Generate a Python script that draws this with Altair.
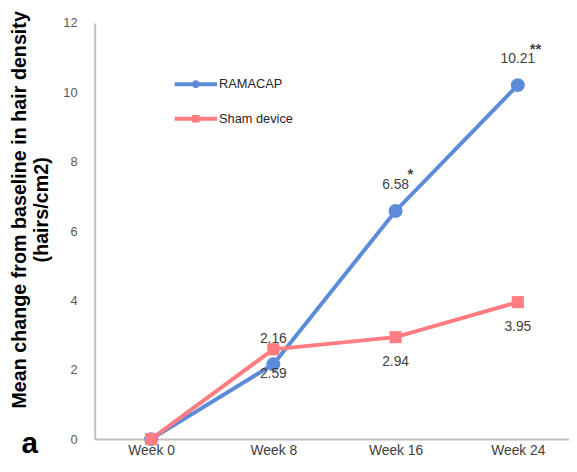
import altair as alt
import pandas as pd

weeks = ["Week 0", "Week 8", "Week 16", "Week 24"]
ramacap = [0, 2.16, 6.58, 10.21]
sham = [0, 2.59, 2.94, 3.95]
ramacap_labels = ["", "2.16", "6.58", "10.21"]
sham_labels = ["", "2.59", "2.94", "3.95"]
ramacap_sig = ["", "", "*", "**"]
series_names = ["RAMACAP", "Sham device"]
series_colors = ["#5B8BD9", "#FF7C80"]
y_ticks = [0, 2, 4, 6, 8, 10, 12]
y_title = ["Mean change from baseline in hair density", "(hairs/cm2)"]
panel_label = ["a"]

rows = []
for w, v, l, s in zip(weeks, ramacap, ramacap_labels, ramacap_sig):
    rows.append({"week": w, "series": series_names[0], "value": v, "label": l, "sig": s})
for w, v, l in zip(weeks, sham, sham_labels):
    rows.append({"week": w, "series": series_names[1], "value": v, "label": l, "sig": ""})
df = pd.DataFrame(rows)

FONT = "Liberation Sans"
AXIS_GRAY = "#BFBFBF"
BLUE, PINK = series_colors

# legend symbols: line segment with marker (unit coords, scaled by sqrt(size)/2)
legend_paths = [
    "M-2.15,-0.2H2.15V0.2H-2.15Z M0.4,0A0.4,0.4 0 1,1 -0.4,0A0.4,0.4 0 1,1 0.4,0Z",
    "M-2.15,-0.2H2.15V0.2H-2.15Z M-0.38,-0.38H0.38V0.38H-0.38Z",
]

x_enc = alt.X(
    "week:N",
    sort=weeks,
    scale=alt.Scale(type="point", padding=0.44, align=0.524),
    axis=alt.Axis(
        title=None, labelAngle=0, ticks=False, tickSize=0, grid=False,
        domainColor=AXIS_GRAY, domainWidth=2,
        labelFont=FONT, labelFontSize=14, labelColor="#404040", labelPadding=5,
    ),
)
y_enc = alt.Y(
    "value:Q",
    scale=alt.Scale(domain=[0, 12], nice=False),
    axis=alt.Axis(
        values=y_ticks, grid=False, ticks=False, tickSize=0,
        domainColor=AXIS_GRAY, domainWidth=2,
        labelFont=FONT, labelFontSize=13, labelColor="#595959", labelPadding=18,
        title=y_title, titleFont=FONT, titleFontSize=20, titleFontWeight="bold",
        titleColor="#000000", titleAngle=270, titleAlign="center",
        titleBaseline="middle", titleLineHeight=22, titleX=-76, titleY=189,
    ),
)

base = alt.Chart(df)
is_blue = alt.datum.series == series_names[0]
is_pink = alt.datum.series == series_names[1]

leg_props = dict(
    title=None, orient="none", legendX=92.5, legendY=52,
    symbolSize=400, symbolStrokeWidth=0, symbolOpacity=1,
    labelOffset=13.5, rowPadding=18, padding=0,
    labelFont=FONT, labelFontSize=13, labelColor="#262626",
)
legend_layer = base.transform_filter("false").mark_point(filled=True, opacity=1).encode(
    x=x_enc, y=y_enc,
    color=alt.Color("series:N", scale=alt.Scale(domain=series_names, range=series_colors),
                    legend=alt.Legend(**leg_props)),
    shape=alt.Shape("series:N", scale=alt.Scale(domain=series_names, range=legend_paths),
                    legend=alt.Legend(**leg_props)),
)

blue_line = base.transform_filter(is_blue).mark_line(strokeWidth=4, color=BLUE).encode(x=x_enc, y=y_enc)
pink_line = base.transform_filter(is_pink).mark_line(strokeWidth=4, color=PINK).encode(x=x_enc, y=y_enc)

blue_pts = base.transform_filter(is_blue).mark_point(
    shape="circle", filled=True, size=200, opacity=1, color=BLUE
).encode(x=x_enc, y=y_enc)

pink_pts = base.transform_filter(is_pink).mark_point(
    shape="square", filled=True, size=150, opacity=1, color=PINK
).encode(x=x_enc, y=y_enc)

blue_lbl = base.transform_filter(is_blue).mark_text(
    dy=-26, font=FONT, fontSize=14, color="#404040", baseline="middle"
).encode(x=x_enc, y=y_enc, text="label:N")

pink_lbl = base.transform_filter(is_pink).mark_text(
    dy=25, font=FONT, fontSize=14, color="#404040", baseline="middle"
).encode(x=x_enc, y=y_enc, text="label:N")

sig_lbl = base.transform_filter(is_blue).mark_text(
    dx=12, dy=-32, align="left", font=FONT, fontSize=15, fontWeight="bold",
    color="#404040", baseline="alphabetic"
).encode(x=x_enc, y=y_enc, text="sig:N")

a_label = alt.Chart(pd.DataFrame({"t": panel_label})).mark_text(
    font=FONT, fontSize=30, fontWeight="bold", color="#000000", baseline="middle", align="center"
).encode(text="t:N", x=alt.value(-66), y=alt.value(427))

chart = alt.layer(
    legend_layer, blue_line, pink_line, blue_pts, pink_pts, blue_lbl, pink_lbl, sig_lbl, a_label
).properties(
    width=481, height=422, autosize="none",
    padding={"left": 88, "top": 12, "right": 0, "bottom": 22},
    background="white",
).configure_view(stroke=None)

chart.save("out.html", embed_options={"renderer": "svg", "actions": False})
